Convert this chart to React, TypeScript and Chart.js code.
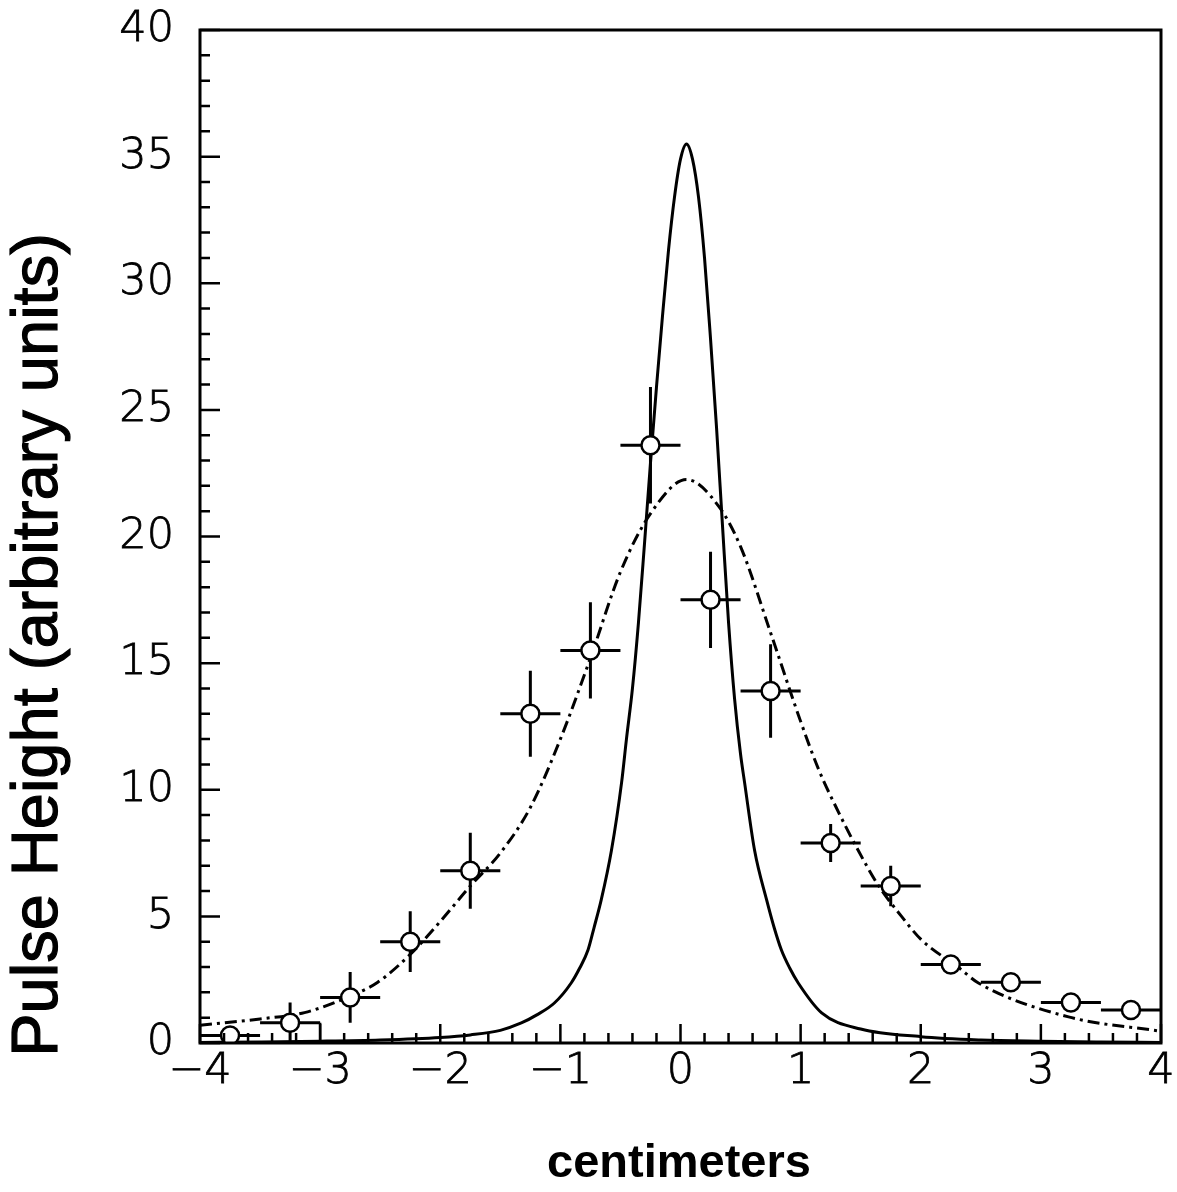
import React, { useEffect, useRef } from "react";
import { Chart, registerables } from "chart.js";

Chart.register(...registerables);

// ---- Data ----
const xTickLabels = [-4, -3, -2, -1, 0, 1, 2, 3, 4];
const yTickLabels = [0, 5, 10, 15, 20, 25, 30, 35, 40];
const xMinorStep = 0.2;
const yMinorStep = 1;

// measured points (bin centres), values, errors
const pointX = [-3.75, -3.25, -2.75, -2.25, -1.75, -1.25, -0.75, -0.25, 0.25, 0.75, 1.25, 1.75, 2.25, 2.75, 3.25, 3.75];
const pointY = [0.3, 0.8, 1.8, 4.0, 6.8, 13.0, 15.5, 23.6, 17.5, 13.9, 7.9, 6.2, 3.1, 2.4, 1.6, 1.3];
const pointYErr = [0.3, 0.8, 1.0, 1.2, 1.5, 1.7, 1.9, 2.3, 1.9, 1.85, 0.75, 0.8, 0.3, 0.3, 0.3, 0.3];
const pointXErr = [0.25, 0.25, 0.25, 0.25, 0.25, 0.25, 0.25, 0.25, 0.25, 0.25, 0.25, 0.25, 0.25, 0.25, 0.25, 0.25];

// narrow solid curve
const narrowX = [-4, -3.5, -3, -2.5, -2, -1.75, -1.5, -1.325, -1.2, -1.05, -0.91, -0.84, -0.77, -0.72, -0.66, -0.575, -0.49, -0.45, -0.4, -0.35, -0.3, -0.25, -0.2, -0.15, -0.1, -0.05, 0.0, 0.05, 0.1, 0.15, 0.2, 0.25, 0.3, 0.35, 0.4, 0.45, 0.5, 0.533, 0.617, 0.717, 0.78, 0.84, 0.91, 0.98, 1.175, 1.5, 2, 2.5, 3, 3.5, 4];
const narrowY = [0.02, 0.04, 0.07, 0.12, 0.22, 0.32, 0.5, 0.79, 1.1, 1.58, 2.37, 2.95, 3.67, 4.55, 5.65, 7.6, 10.3, 12.0, 14.0, 16.6, 19.7, 22.9, 25.9, 28.7, 31.3, 33.4, 34.9, 35.5, 34.9, 33.4, 31.0, 27.8, 24.3, 20.4, 16.6, 13.6, 11.4, 10.3, 7.6, 5.65, 4.55, 3.67, 2.95, 2.37, 1.19, 0.55, 0.25, 0.12, 0.07, 0.04, 0.02];

// wide dash-dot curve
const wideX = [-4, -3.5, -3.13, -2.75, -2.52, -2.25, -2.0, -1.75, -1.5, -1.25, -1.0, -0.75, -0.5, -0.25, 0.05, 0.317, 0.5, 0.75, 1.0, 1.15, 1.317, 1.48, 1.65, 1.84, 2.0, 2.32, 2.48, 3.23, 3.99];
const wideY = [0.7, 0.95, 1.2, 1.85, 2.4, 3.5, 4.8, 6.2, 7.5, 9.3, 12.0, 15.2, 18.6, 20.9, 22.25, 21.2, 19.6, 16.2, 12.7, 10.8, 9.1, 7.6, 6.2, 5.0, 4.1, 2.96, 2.37, 1.03, 0.47];

// small histogram edge near x = -3
const edgeX = [-3.0, -3.0];
const edgeY = [0.8, 0.0];

const TICK_FONT = { family: "DejaVu Sans", size: 43, weight: "200" as any };
const TITLE_FAMILY = "'Liberation Sans', Arial, sans-serif";

const fmt = (v: number) => (v < 0 ? "\u2212" + Math.abs(v) : String(v));

const errorBarPlugin = {
  id: "errorBars",
  beforeDatasetsDraw(chart: any) {
    const { ctx, scales, chartArea } = chart;
    const xs = scales.x;
    const ys = scales.y;
    ctx.save();
    ctx.beginPath();
    ctx.rect(chartArea.left, chartArea.top, chartArea.right - chartArea.left, chartArea.bottom - chartArea.top);
    ctx.clip();
    ctx.strokeStyle = "#000";
    ctx.lineWidth = 3;
    for (let i = 0; i < pointX.length; i++) {
      const cx = xs.getPixelForValue(pointX[i]);
      const cy = ys.getPixelForValue(pointY[i]);
      const x0 = xs.getPixelForValue(pointX[i] - pointXErr[i]);
      const x1 = xs.getPixelForValue(pointX[i] + pointXErr[i]);
      const y0 = ys.getPixelForValue(pointY[i] - pointYErr[i]);
      const y1 = ys.getPixelForValue(pointY[i] + pointYErr[i]);
      ctx.beginPath();
      ctx.moveTo(x0, cy);
      ctx.lineTo(x1, cy);
      ctx.moveTo(cx, y0);
      ctx.lineTo(cx, y1);
      ctx.stroke();
    }
    ctx.restore();
  },
};

const framePlugin = {
  id: "frameTicks",
  afterDraw(chart: any) {
    const { ctx, scales, chartArea } = chart;
    const xs = scales.x;
    const ys = scales.y;
    const { left, right, top, bottom } = chartArea;
    ctx.save();
    ctx.strokeStyle = "#000";
    ctx.lineCap = "butt";
    ctx.lineWidth = 2.5;
    ctx.beginPath();
    for (let v = xs.min; v <= xs.max + 1e-9; v += xMinorStep) {
      const px = xs.getPixelForValue(v);
      const isMajor = xTickLabels.some((t) => Math.abs(t - v) < 1e-6);
      ctx.moveTo(px, bottom);
      ctx.lineTo(px, bottom - (isMajor ? 19 : 10));
    }
    for (let v = ys.min; v <= ys.max + 1e-9; v += yMinorStep) {
      const py = ys.getPixelForValue(v);
      const isMajor = yTickLabels.some((t) => Math.abs(t - v) < 1e-6);
      ctx.moveTo(left, py);
      ctx.lineTo(left + (isMajor ? 20 : 10), py);
    }
    ctx.stroke();
    ctx.lineWidth = 3;
    ctx.beginPath();
    ctx.moveTo(left, top);
    ctx.lineTo(right, top);
    ctx.lineTo(right, bottom);
    ctx.lineTo(left, bottom);
    ctx.closePath();
    ctx.stroke();

    ctx.fillStyle = "#000";
    ctx.font = `bold 47px ${TITLE_FAMILY}`;
    ctx.textAlign = "center";
    ctx.textBaseline = "middle";
    ctx.fillText("centimeters", 679, 1164);

    ctx.save();
    ctx.translate(39, 645);
    ctx.rotate(-Math.PI / 2);
    ctx.font = `65px ${TITLE_FAMILY}`;
    ctx.lineWidth = 1.2;
    ctx.strokeStyle = "#000";
    ctx.fillText("Pulse Height (arbitrary units)", 0, 0);
    ctx.strokeText("Pulse Height (arbitrary units)", 0, 0);
    ctx.restore();
    ctx.restore();
  },
};

export default function App() {
  const canvasRef = useRef<HTMLCanvasElement | null>(null);

  useEffect(() => {
    document.body.style.margin = "0";
    const canvas = canvasRef.current;
    if (!canvas) return;
    const chart = new Chart(canvas, {
      type: "scatter",
      data: {
        datasets: [
          {
            label: "data",
            data: pointX.map((x, i) => ({ x, y: pointY[i] })),
            pointRadius: 9,
            pointHoverRadius: 9,
            pointBackgroundColor: "#fff",
            pointBorderColor: "#000",
            pointBorderWidth: 2.5,
            showLine: false,
            order: 0,
          } as any,
          {
            type: "line",
            label: "narrow",
            data: narrowX.map((x, i) => ({ x, y: narrowY[i] })),
            borderColor: "#000",
            borderWidth: 3,
            pointRadius: 0,
            fill: false,
            cubicInterpolationMode: "monotone",
            order: 2,
          } as any,
          {
            type: "line",
            label: "wide",
            data: wideX.map((x, i) => ({ x, y: wideY[i] })),
            borderColor: "#000",
            borderWidth: 3,
            borderDash: [12, 5, 3, 5],
            pointRadius: 0,
            fill: false,
            cubicInterpolationMode: "monotone",
            order: 1,
          } as any,
          {
            type: "line",
            label: "edge",
            data: edgeX.map((x, i) => ({ x, y: edgeY[i] })),
            borderColor: "#000",
            borderWidth: 2.5,
            pointRadius: 0,
            fill: false,
            order: 3,
          } as any,
        ],
      },
      options: {
        responsive: false,
        animation: false,
        layout: { padding: { top: 30, right: 16, left: 0, bottom: 0 } },
        plugins: { legend: { display: false }, tooltip: { enabled: false } },
        events: [],
        scales: {
          x: {
            type: "linear",
            min: -4,
            max: 4,
            afterBuildTicks: (s: any) => {
              s.ticks = xTickLabels.map((v) => ({ value: v }));
            },
            afterFit: (s: any) => {
              s.height = 149;
              s.paddingLeft = 0;
              s.paddingRight = 0;
            },
            ticks: {
              callback: (v: any) => fmt(Number(v)),
              font: TICK_FONT,
              color: "#000",
              textStrokeColor: "#000",
              textStrokeWidth: 0.8,
              padding: 3,
              maxRotation: 0,
              autoSkip: false,
            },
            grid: { display: false, drawTicks: false },
            border: { display: false },
          },
          y: {
            type: "linear",
            min: 0,
            max: 40,
            afterBuildTicks: (s: any) => {
              s.ticks = yTickLabels.map((v) => ({ value: v }));
            },
            afterFit: (s: any) => {
              s.width = 200;
              s.paddingTop = 0;
              s.paddingBottom = 0;
            },
            ticks: {
              callback: (v: any) => fmt(Number(v)),
              font: TICK_FONT,
              color: "#000",
              textStrokeColor: "#000",
              textStrokeWidth: 0.8,
              padding: 26,
              autoSkip: false,
            },
            grid: { display: false, drawTicks: false },
            border: { display: false },
          },
        },
      },
      plugins: [errorBarPlugin, framePlugin],
    });
    return () => chart.destroy();
  }, []);

  return (
    <div style={{ width: 1177, height: 1192, background: "#fff" }}>
      <canvas ref={canvasRef} width={1177} height={1192} style={{ display: "block" }} />
    </div>
  );
}
